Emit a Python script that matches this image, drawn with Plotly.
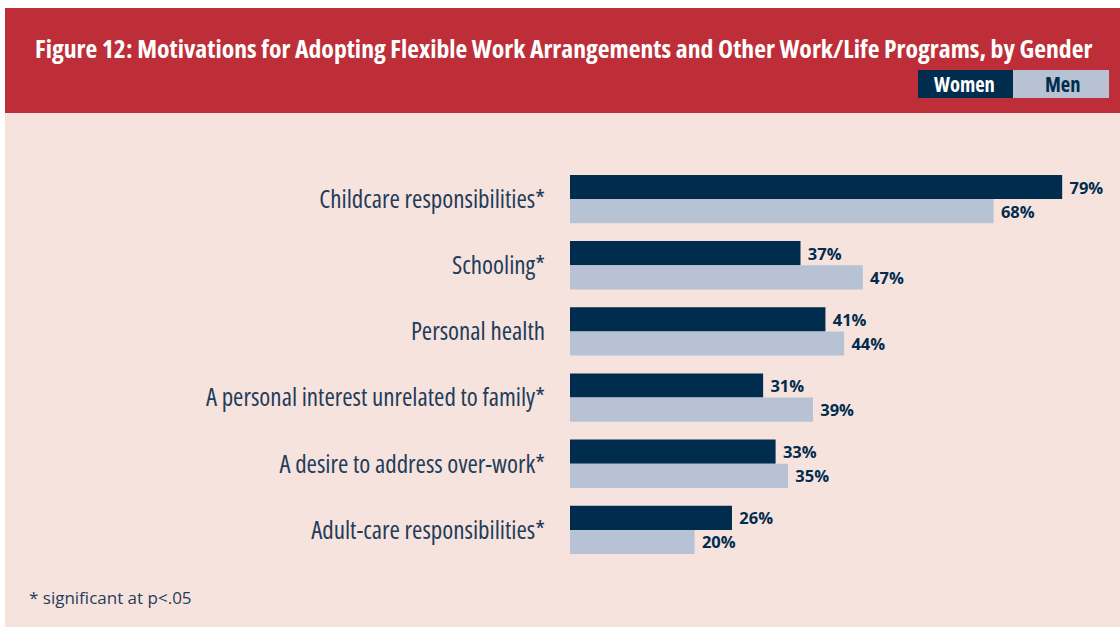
import plotly.graph_objects as go

categories = [
    "Childcare responsibilities*",
    "Schooling*",
    "Personal health",
    "A personal interest unrelated to family*",
    "A desire to address over-work*",
    "Adult-care responsibilities*",
]
women = [79, 37, 41, 31, 33, 26]
men = [68, 47, 44, 39, 35, 20]
series_names = ["Women", "Men"]

W, H = 1120, 627
L, R, T, B = 570, 0, 166, 64
PW, PH = W - L - R, H - T - B

NAVY = "#002d4e"
LIGHT = "#b7c2d4"
RED = "#be2e38"
PINK = "#f7e3de"
TEXT = "#1f3d5a"


def px(x):
    return (x - L) / PW


def py(y):
    return 1 - (y - T) / PH


fig = go.Figure()
for name, vals, col in [(series_names[0], women, NAVY), (series_names[1], men, LIGHT)]:
    fig.add_trace(go.Bar(
        y=categories, x=vals, name=name, orientation="h",
        marker=dict(color=col, line=dict(width=0)),
        text=[f"\u00a0{v}%" for v in vals], textposition="outside",
        textfont=dict(size=16.5, color=NAVY, weight="bold"),
        cliponaxis=False, hoverinfo="skip",
    ))

shapes = [
    dict(type="rect", xref="paper", yref="paper", x0=px(0), x1=px(W), y0=py(8), y1=py(113),
         fillcolor=RED, line=dict(width=0), layer="below"),
    dict(type="rect", xref="paper", yref="paper", x0=px(0), x1=px(W), y0=py(0), y1=py(8),
         fillcolor="white", line=dict(width=0), layer="below"),
    dict(type="rect", xref="paper", yref="paper", x0=px(0), x1=px(5), y0=py(0), y1=py(H),
         fillcolor="white", line=dict(width=0), layer="below"),
    dict(type="rect", xref="paper", yref="paper", x0=px(918), x1=px(1013), y0=py(70), y1=py(98),
         fillcolor=NAVY, line=dict(width=0)),
    dict(type="rect", xref="paper", yref="paper", x0=px(1013), x1=px(1109), y0=py(70), y1=py(98),
         fillcolor=LIGHT, line=dict(width=0)),
]

annotations = [
    dict(text="Figure 12: Motivations for Adopting Flexible Work Arrangements and Other Work/Life Programs, by Gender",
         xref="paper", yref="paper", x=px(33), y=py(49), xanchor="left", yanchor="middle", align="left",
         showarrow=False, font=dict(size=25.7, color="white", weight="bold")),
    dict(text=series_names[0], xref="paper", yref="paper", x=px(964), y=py(84),
         xanchor="center", yanchor="middle", showarrow=False,
         font=dict(size=20.5, color="white", weight="bold")),
    dict(text=series_names[1], xref="paper", yref="paper", x=px(1062), y=py(84),
         xanchor="center", yanchor="middle", showarrow=False,
         font=dict(size=20.5, color=NAVY, weight="bold")),
    dict(text="* significant at p<.05", xref="paper", yref="paper", x=px(27), y=py(597),
         xanchor="left", yanchor="middle", align="left", showarrow=False,
         font=dict(size=17, color=TEXT)),
]

fig.update_layout(
    width=W, height=H, autosize=False,
    margin=dict(l=L, r=R, t=T, b=B, pad=0),
    font=dict(family="Open Sans, DejaVu Sans, sans-serif"),
    paper_bgcolor=PINK, plot_bgcolor="rgba(0,0,0,0)",
    barmode="group", bargap=0.27, bargroupgap=0,
    showlegend=False,
    shapes=shapes, annotations=annotations,
    xaxis=dict(range=[0, PW / 6.23], visible=False, fixedrange=True),
    yaxis=dict(autorange="reversed", showgrid=False, showline=False, zeroline=False,
               ticks="", ticklabelstandoff=24,
               tickfont=dict(size=25, color=TEXT), fixedrange=True),
)

post = (
    "var s=document.createElement('style');"
    "s.innerHTML='body{margin:0;padding:0}"
    " text[style*=\"25.7px\"]{font-stretch:75%}"
    " text[style*=\"font-size: 25px\"]{font-stretch:75%}"
    " text[style*=\"20.5px\"]{font-stretch:75%}';"
    "document.head.appendChild(s);"
    "var gd=document.getElementById('{plot_id}');"
    "Plotly.relayout(gd,{'font.family':'Open Sans, sans-serif'});"
)
fig.write_html("out.html", config={"displayModeBar": False}, post_script=post)
